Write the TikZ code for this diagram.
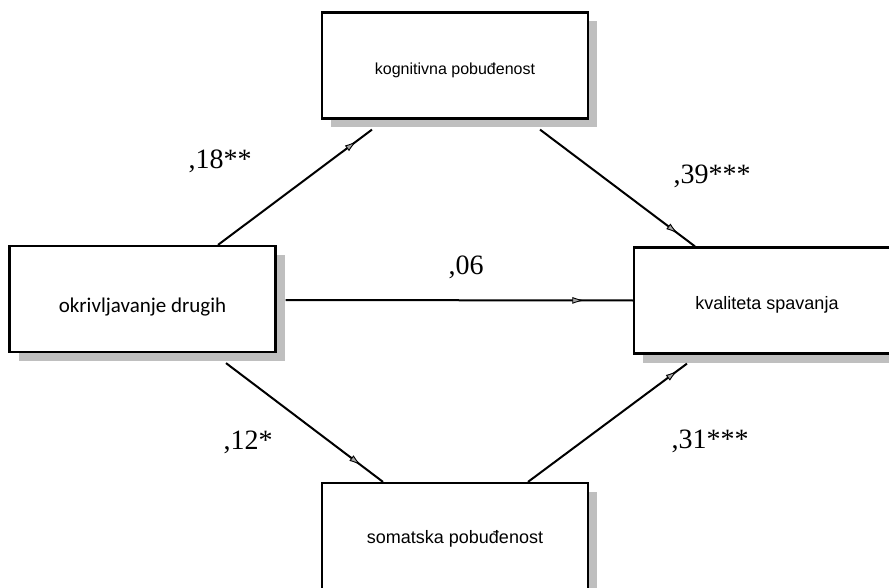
\documentclass[tikz,border=0pt]{standalone}
\usepackage{fontspec}
\setmainfont{Liberation Serif}
\newfontfamily\arialfont{Liberation Sans}
\newfontfamily\calibrifont{Carlito}
\usepackage{tikz}
\usetikzlibrary{arrows.meta, decorations.markings, shadows}

\tikzset{
  varbox/.style={draw, line width=2.2pt, fill=white, inner sep=0pt,
    minimum width=266pt, minimum height=106pt,
    drop shadow={shadow xshift=9pt, shadow yshift=-9pt, fill=black!25, opacity=1}},
  tbase/.style={text height=#1, text depth=0pt},
  path/.style={line width=2pt, postaction={decorate},
    decoration={markings, mark=at position #1 with
      {\arrow{Latex[length=12pt, width=7pt, fill=black!35, line width=0.9pt]}}}},
  coef/.style={anchor=base, font=\fontsize{28}{32}\selectfont}
}

\begin{document}
\begin{tikzpicture}[x=1pt, y=-1pt]
  \useasboundingbox (0,0) rectangle (889,588);
  \clip (0,0) rectangle (889,588);
  \fill[white] (0,0) rectangle (889,588);

  % Variables
  \node[varbox, tbase=18pt, font=\arialfont\fontsize{16}{19}\selectfont] (kog) at (455,65.5) {kognitivna pobuđenost};
  \node[varbox, tbase=27pt, font=\calibrifont\fontsize{21}{25}\selectfont] (okr) at (142.5,299) {okrivljavanje drugih};
  \node[varbox, tbase=17pt, font=\arialfont\fontsize{18}{21}\selectfont] (kva) at (767,300.5) {kvaliteta spavanja};
  \node[varbox, tbase=14pt, font=\arialfont\fontsize{18}{21}\selectfont] (som) at (455,536) {somatska pobuđenost};

  % Paths
  \draw[path=0.9] ([xshift=75.5pt]okr.north) -- ([xshift=-83pt, yshift=-10pt]kog.south);
  \draw[path=0.89] ([xshift=85pt, yshift=-10pt]kog.south) -- ([xshift=-72pt]kva.north);
  \draw[path=0.86] ([xshift=9pt, yshift=-1pt]okr.east) -- (kva.west);
  \draw[path=0.86] ([xshift=83.5pt, yshift=-10pt]okr.south) -- ([xshift=-72pt]som.north);
  \draw[path=0.94] ([xshift=73pt]som.north) -- ([xshift=-80pt, yshift=-9pt]kva.south);

  % Coefficients
  \node[coef] (c18) at (220,169) {,18**};
  \node[coef] (c39) at (712,184) {,39***};
  \node[coef] (c06) at (466,274) {,06};
  \node[coef] (c12) at (248,449) {,12*};
  \node[coef] (c31) at (710,448) {,31***};
\end{tikzpicture}
\end{document}
